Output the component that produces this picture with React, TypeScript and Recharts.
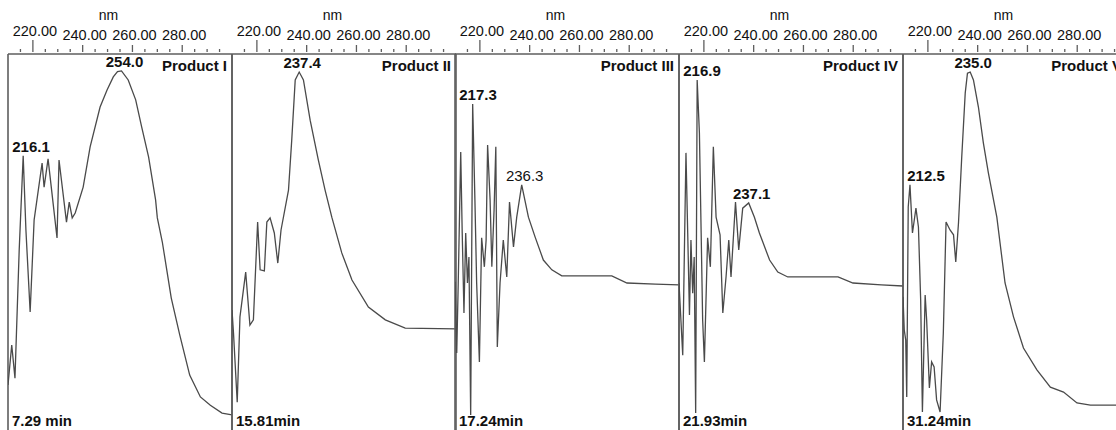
import React from "react";
import { LineChart, Line, XAxis, YAxis, ReferenceLine, ReferenceDot } from "recharts";

const FONT = '"Liberation Sans", Arial, Helvetica, sans-serif';
const INK = "#111";
const RULE = "#5e5e5e";
const TRACE = "#4a4a4a";

// panel geometry (px)
const FIRST_LEFT = 8;
const STEP = 223.7;
const PLOT_W = 224;
const PAD = 2;

// wavelength axis
const tickNm = [215, 220, 225, 230, 235, 240, 245, 250, 255, 260, 265, 270, 275, 280, 285, 290, 295];
const majorNm = [220, 240, 260, 280];

const products = ["Product I", "Product II", "Product III", "Product IV", "Product V"];
const retention = ["7.29 min", "15.81min", "17.24min", "21.93min", "31.24min"];

// Product I
const nmI = [210, 211.5, 212.8, 214.5, 216.1, 217.2, 218.9, 220.5, 223.7, 224.5, 226.1, 229.7, 230.5, 233.5, 234.6, 235.8, 237, 240.2, 243, 247, 249.8, 252.3, 254.0, 255.6, 258.3, 261.3, 263.7, 266.5, 269.3, 270, 272, 275.6, 279, 283, 287.3, 291.3, 296, 300];
const absI = [12.0, 22.6, 13.8, 47.9, 72.9, 53.2, 31.4, 55.9, 71.0, 64.6, 72.1, 51.1, 71.8, 55.3, 60.6, 56.4, 57.7, 64.6, 75.3, 85.9, 90.4, 93.9, 95.3, 95.5, 93.1, 87.8, 80.6, 72.6, 61.2, 56.4, 50.0, 35.1, 25.3, 14.6, 8.8, 6.6, 4.5, 4.0];
const peaksI = ["216.1", "254.0"];

// Product II
const nmII = [210, 210.6, 212.1, 213.2, 215.5, 217.2, 218.6, 220.3, 221.3, 223.0, 224.0, 225.3, 227.0, 228.4, 229.7, 232.7, 234.0, 235.4, 237.0, 238.7, 241.4, 244.7, 247.4, 250.1, 254.1, 258.2, 264.8, 271.6, 279.6, 300];
const absII = [31.9, 25.8, 7.4, 30.1, 42.0, 27.9, 29.3, 55.3, 42.6, 42.3, 55.3, 56.4, 52.4, 44.4, 53.2, 63.8, 77.1, 93.1, 95.2, 93.1, 82.4, 71.8, 63.8, 56.6, 47.1, 39.9, 32.7, 29.3, 27.1, 26.9];
const peaksII = ["237.4"];

// Product III
const nmIII = [210, 210.7, 211.3, 212.3, 212.9, 213.6, 214.3, 215.0, 215.6, 216.3, 217.1, 218.0, 218.7, 219.8, 220.7, 221.8, 222.5, 223.1, 224.1, 224.8, 225.7, 226.4, 227.0, 228.1, 229.4, 230.8, 231.9, 233.5, 234.8, 236.8, 239.5, 242.2, 245.5, 248.9, 252.9, 273.0, 279.1, 290.5, 300];
const absIII = [39.4, 20.5, 39.1, 73.9, 52.4, 31.1, 52.4, 39.1, 46.0, 4.0, 86.7, 61.2, 39.1, 18.1, 51.1, 43.4, 50.5, 75.8, 61.2, 43.4, 58.5, 75.3, 22.1, 39.1, 50.5, 40.7, 60.6, 48.7, 56.6, 65.2, 56.6, 51.3, 45.2, 42.6, 41.0, 41.0, 39.1, 38.8, 38.6];
const peaksIII = ["217.3", "236.3"];

// Product IV
const nmIV = [210, 211.5, 212.8, 213.5, 214.2, 214.8, 215.5, 216.1, 216.7, 217.3, 218.2, 218.9, 219.5, 220.2, 221.5, 222.6, 223.8, 224.9, 226.5, 227.6, 228.9, 230.0, 230.9, 232.7, 234.0, 235.6, 238.0, 240.3, 242.3, 246.4, 249.7, 253.7, 273.9, 279.9, 291.3, 300];
const absIV = [39.1, 19.9, 73.7, 52.4, 30.6, 50.5, 36.4, 46.0, 4.5, 93.1, 79.0, 52.4, 29.3, 18.1, 51.1, 43.4, 75.3, 56.6, 51.9, 31.1, 40.7, 50.5, 40.7, 60.6, 47.9, 59.0, 60.4, 56.6, 52.4, 45.2, 42.0, 40.7, 40.7, 39.1, 38.6, 38.3];
const peaksIV = ["216.9", "237.1"];

// Product V
const nmV = [210, 210.5, 211.1, 211.5, 212.1, 212.8, 213.8, 215.2, 216.2, 217.1, 217.8, 218.9, 219.5, 220.6, 221.5, 222.5, 223.5, 224.9, 226.2, 227.3, 228.9, 230.3, 231.2, 232.3, 233.6, 235.0, 235.9, 237.0, 238.3, 240.3, 242.3, 244.3, 247.7, 251.0, 254.4, 258.4, 263.8, 269.2, 274.5, 279.9, 285.3, 300];
const absV = [35.4, 26.6, 23.9, 8.8, 59.3, 65.2, 52.4, 59.0, 54.0, 34.6, 4.8, 35.9, 29.3, 11.2, 18.1, 16.8, 8.0, 4.8, 25.8, 55.3, 53.2, 51.9, 44.7, 55.1, 72.6, 89.6, 94.9, 95.2, 93.1, 85.9, 76.3, 68.4, 56.6, 39.1, 30.1, 21.8, 16.0, 11.4, 10.1, 7.2, 6.6, 6.6];
const peaksV = ["212.5", "235.0"];

const lightPeaks = ["236.3"];

const spectra = [
  { nm: nmI, abs: absI, peaks: peaksI },
  { nm: nmII, abs: absII, peaks: peaksII },
  { nm: nmIII, abs: absIII, peaks: peaksIII },
  { nm: nmIV, abs: absIV, peaks: peaksIV },
  { nm: nmV, abs: absV, peaks: peaksV },
];

function TopTick(props: any) {
  const { x, y, payload } = props;
  const v = payload.value;
  const major = majorNm.includes(v);
  const first = v === majorNm[0];
  const len = major ? (first ? 12 : 7) : 3;
  return (
    <g>
      <line x1={x} x2={x} y1={y} y2={y - len} stroke={RULE} strokeWidth={1.3} />
      {major && (
        <text x={x + 2} y={y - (first ? 16 : 12)} textAnchor="middle" fontFamily={FONT} fontSize={14.5} fill={INK}>
          {v.toFixed(2)}
        </text>
      )}
      {v === 250 && (
        <text x={x + 1} y={y - 32} textAnchor="middle" fontFamily={FONT} fontSize={14} fill={INK}>
          nm
        </text>
      )}
    </g>
  );
}

function Panel({ index }: { index: number }) {
  const s = spectra[index];
  const rows = s.nm.map((x, i) => ({ nm: x, abs: s.abs[i] }));
  const peakDots = s.peaks.map((txt) => {
    const target = parseFloat(txt);
    const near = rows.filter((r) => Math.abs(r.nm - target) <= 2);
    const top = near.reduce((a, b) => (b.abs > a.abs ? b : a));
    return { txt, nm: top.nm, abs: top.abs };
  });

  return (
    <div style={{ position: "absolute", left: FIRST_LEFT + index * STEP - PAD, top: 0 }}>
      <LineChart
        width={PLOT_W + 2 * PAD}
        height={440}
        data={rows}
        margin={{ top: 0, right: PAD, bottom: 10, left: PAD }}
      >
        <XAxis
          dataKey="nm"
          type="number"
          orientation="top"
          domain={[210, 300]}
          ticks={tickNm}
          interval={0}
          height={54}
          tickSize={0}
          tickLine={false}
          axisLine={{ stroke: RULE, strokeWidth: 1.5 }}
          tick={<TopTick />}
          allowDataOverflow
        />
        <YAxis hide domain={[0, 100]} />
        <ReferenceLine
          x={210}
          stroke={RULE}
          strokeWidth={1.6}
          label={(p: any) => (
            <text
              x={p.viewBox.x + 4}
              y={p.viewBox.y + p.viewBox.height - 4}
              fontFamily={FONT}
              fontSize={15}
              fontWeight="bold"
              fill={INK}
            >
              {retention[index]}
            </text>
          )}
        />
        <ReferenceLine
          x={300}
          stroke={RULE}
          strokeWidth={1.6}
          label={(p: any) => (
            <text
              x={p.viewBox.x - 5}
              y={p.viewBox.y + 17}
              textAnchor="end"
              fontFamily={FONT}
              fontSize={15}
              fontWeight="bold"
              fill={INK}
            >
              {products[index]}
            </text>
          )}
        />
        <Line
          type="linear"
          dataKey="abs"
          stroke={TRACE}
          strokeWidth={1.3}
          dot={false}
          isAnimationActive={false}
        />
        {peakDots.map((p) => (
          <ReferenceDot
            key={p.txt}
            x={p.nm}
            y={p.abs}
            r={0}
            fill="none"
            stroke="none"
            label={(lp: any) => (
              <text
                x={Math.max(lp.viewBox.x + 3, PAD + 23)}
                y={lp.viewBox.y - 4}
                textAnchor="middle"
                fontFamily={FONT}
                fontSize={15}
                fontWeight={lightPeaks.includes(p.txt) ? "normal" : "bold"}
                fill={INK}
              >
                {p.txt}
              </text>
            )}
          />
        ))}
      </LineChart>
    </div>
  );
}

export default function App() {
  return (
    <div
      style={{
        position: "absolute",
        left: 0,
        top: 0,
        width: 1116,
        height: 430,
        overflow: "hidden",
        background: "#fff",
      }}
    >
      {spectra.map((_, i) => (
        <Panel key={i} index={i} />
      ))}
    </div>
  );
}
